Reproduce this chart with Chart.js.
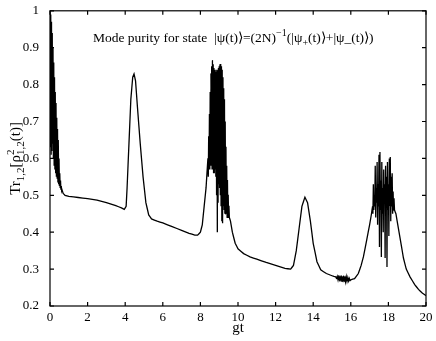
<!DOCTYPE html>
<html>
<head>
  <title>Mode purity</title>
  <script src="https://cdn.jsdelivr.net/npm/chart.js"></script>
  <style>
    html, body { margin: 0; padding: 0; background: #fff; }
    #wrap { width: 436px; height: 341px; }
  </style>
</head>
<body>
  <div id="wrap"><canvas id="c"></canvas></div>

  <script>
    // fast oscillations right after t = 0
    const burst1Gt = [0, 0.02, 0.04, 0.06, 0.08, 0.10, 0.12, 0.14, 0.16, 0.18, 0.20, 0.22, 0.24, 0.26, 0.28, 0.30,
      0.32, 0.34, 0.36, 0.38, 0.40, 0.42, 0.44, 0.46, 0.48, 0.50, 0.52, 0.54, 0.56, 0.58, 0.60, 0.62, 0.64];
    const burst1Val = [1.00, 0.63, 0.99, 0.61, 0.97, 0.62, 0.94, 0.64, 0.90, 0.60, 0.86, 0.58, 0.82, 0.57, 0.78, 0.56,
      0.75, 0.55, 0.71, 0.545, 0.68, 0.535, 0.65, 0.53, 0.60, 0.525, 0.56, 0.52, 0.54, 0.515, 0.525, 0.512, 0.515];

    // plateau, first revival peak, slow decay
    const smooth1Gt = [0.70, 0.80, 1.0, 1.5, 2.0, 2.5, 3.0, 3.5, 3.8, 3.95, 4.05, 4.1, 4.2, 4.3, 4.4, 4.47, 4.55,
      4.65, 4.8, 4.95, 5.1, 5.25, 5.4, 5.7, 6.0, 6.5, 7.0, 7.4, 7.7, 7.85, 8.0, 8.1, 8.2, 8.3];
    const smooth1Val = [0.505, 0.500, 0.497, 0.494, 0.491, 0.487, 0.480, 0.472, 0.466, 0.462, 0.47, 0.52, 0.64, 0.76,
      0.82, 0.829, 0.81, 0.74, 0.64, 0.55, 0.48, 0.447, 0.436, 0.430, 0.425, 0.415, 0.405, 0.397, 0.392, 0.392, 0.40,
      0.42, 0.47, 0.52];

    // second burst around gt = 9
    const burst2Gt = [8.40, 8.42, 8.44, 8.46, 8.48, 8.50, 8.52, 8.54, 8.56, 8.58, 8.60, 8.62, 8.64, 8.66, 8.68, 8.70,
      8.72, 8.74, 8.76, 8.78, 8.80, 8.82, 8.84, 8.86, 8.88, 8.90, 8.92, 8.94, 8.96, 8.98, 9.00, 9.02, 9.04, 9.06,
      9.08, 9.10, 9.12, 9.14, 9.16, 9.18, 9.20, 9.22, 9.24, 9.26, 9.28, 9.30, 9.32, 9.34, 9.36, 9.38, 9.40, 9.42,
      9.44, 9.46, 9.48, 9.50, 9.52, 9.54];
    const burst2Val = [0.60, 0.55, 0.66, 0.57, 0.72, 0.57, 0.78, 0.58, 0.83, 0.58, 0.85, 0.57, 0.865, 0.57, 0.855, 0.56,
      0.845, 0.56, 0.84, 0.57, 0.835, 0.55, 0.84, 0.50, 0.835, 0.40, 0.84, 0.48, 0.845, 0.53, 0.85, 0.52, 0.855, 0.50,
      0.856, 0.47, 0.85, 0.43, 0.84, 0.424, 0.82, 0.47, 0.79, 0.46, 0.76, 0.45, 0.70, 0.45, 0.63, 0.45, 0.58, 0.44,
      0.54, 0.44, 0.50, 0.44, 0.47, 0.44];

    // decay, peak near gt = 13.6
    const smooth2Gt = [9.60, 9.7, 9.85, 10.0, 10.3, 10.64, 11.0, 11.5, 12.0, 12.5, 12.8, 12.95, 13.1, 13.25, 13.4,
      13.56, 13.7, 13.85, 14.0, 14.2, 14.4, 14.7, 14.9, 15.1];
    const smooth2Val = [0.43, 0.40, 0.37, 0.355, 0.342, 0.333, 0.327, 0.318, 0.31, 0.302, 0.300, 0.31, 0.35, 0.41, 0.47,
      0.495, 0.48, 0.43, 0.37, 0.32, 0.298, 0.288, 0.284, 0.280];

    // small ripple near gt = 15.6
    const rippleGt = [15.20, 15.24, 15.28, 15.32, 15.36, 15.40, 15.44, 15.48, 15.52, 15.56, 15.60, 15.64, 15.68,
      15.72, 15.76, 15.80, 15.84, 15.88, 15.92, 15.96, 16.00];
    const rippleVal = [0.279, 0.274, 0.280, 0.271, 0.281, 0.268, 0.281, 0.267, 0.281, 0.266, 0.281, 0.266, 0.280,
      0.266, 0.279, 0.267, 0.277, 0.268, 0.275, 0.269, 0.271];

    const rise3Gt = [16.2, 16.4, 16.55, 16.67, 16.85, 17.0, 17.1];
    const rise3Val = [0.274, 0.288, 0.31, 0.333, 0.38, 0.42, 0.45];

    // third burst around gt = 17.7
    const burst3Gt = [17.150, 17.175, 17.200, 17.225, 17.250, 17.275, 17.300, 17.325, 17.350, 17.375, 17.400, 17.425,
      17.450, 17.475, 17.500, 17.525, 17.550, 17.575, 17.600, 17.625, 17.650, 17.675, 17.700, 17.725, 17.750, 17.775,
      17.800, 17.825, 17.850, 17.875, 17.900, 17.925, 17.950, 17.975, 18.000, 18.025, 18.050, 18.075, 18.100, 18.125,
      18.150, 18.175, 18.200, 18.225, 18.250, 18.275, 18.300, 18.325];
    const burst3Val = [0.47, 0.45, 0.53, 0.46, 0.50, 0.47, 0.58, 0.44, 0.52, 0.48, 0.59, 0.42,
      0.53, 0.47, 0.61, 0.36, 0.617, 0.46, 0.54, 0.333, 0.59, 0.45, 0.52, 0.40, 0.57, 0.48,
      0.53, 0.33, 0.58, 0.47, 0.55, 0.306, 0.59, 0.46, 0.53, 0.39, 0.60, 0.47, 0.604, 0.43,
      0.55, 0.47, 0.56, 0.45, 0.51, 0.46, 0.49, 0.46];

    const tailGt = [18.4, 18.5, 18.6, 18.7, 18.8, 18.95, 19.15, 19.4, 19.6, 19.8, 19.95, 20.0];
    const tailVal = [0.45, 0.42, 0.39, 0.36, 0.33, 0.30, 0.279, 0.258, 0.245, 0.235, 0.23, 0.228];

    const xTickValues = [0, 2, 4, 6, 8, 10, 12, 14, 16, 18, 20];
    const yTickValues = [0.2, 0.3, 0.4, 0.5, 0.6, 0.7, 0.8, 0.9, 1];

    const gtAll = [].concat(burst1Gt, smooth1Gt, burst2Gt, smooth2Gt, rippleGt, rise3Gt, burst3Gt, tailGt);
    const valAll = [].concat(burst1Val, smooth1Val, burst2Val, smooth2Val, rippleVal, rise3Val, burst3Val, tailVal);
    const points = gtAll.map((g, i) => ({ x: g, y: valAll[i] }));

    const FONT = "'Liberation Serif', 'Times New Roman', serif";

    // draw text runs with sub/superscripts; returns width (or only measures)
    function drawRuns(ctx, runs, x, y, size, measureOnly) {
      let cx = x;
      runs.forEach(r => {
        if (r.t) {
          ctx.font = size + 'px ' + FONT;
          if (!measureOnly) ctx.fillText(r.t, cx, y);
          cx += ctx.measureText(r.t).width;
        } else {
          const small = Math.round(size * 0.72);
          ctx.font = small + 'px ' + FONT;
          let w = 0;
          if (r.sup) {
            if (!measureOnly) ctx.fillText(r.sup, cx, y - size * 0.42);
            w = Math.max(w, ctx.measureText(r.sup).width);
          }
          if (r.sub) {
            if (!measureOnly) ctx.fillText(r.sub, cx, y + size * 0.28);
            w = Math.max(w, ctx.measureText(r.sub).width);
          }
          cx += w;
        }
      });
      return cx - x;
    }

    const titleRuns = [
      { t: 'Mode purity for state  |\u03c8(t)\u27e9=(2N)' }, { sup: '\u22121' },
      { t: '(|\u03c8' }, { sub: '+' }, { t: '(t)\u27e9+|\u03c8_(t)\u27e9)' }
    ];
    const yTitleRuns = [
      { t: 'Tr' }, { sub: '1,2' }, { t: '[\u03c1' }, { sup: '2', sub: '1,2' }, { t: '(t)]' }
    ];

    const framePlugin = {
      id: 'frame',
      afterDraw(chart) {
        const { ctx, chartArea: a, scales: { x, y } } = chart;
        ctx.save();
        ctx.strokeStyle = '#000';
        ctx.lineWidth = 1.2;
        ctx.strokeRect(a.left, a.top, a.right - a.left, a.bottom - a.top);
        ctx.beginPath();
        x.ticks.forEach(t => {
          const px = x.getPixelForValue(t.value);
          ctx.moveTo(px, a.bottom); ctx.lineTo(px, a.bottom - 4);
          ctx.moveTo(px, a.top); ctx.lineTo(px, a.top + 4);
        });
        y.ticks.forEach(t => {
          const py = y.getPixelForValue(t.value);
          ctx.moveTo(a.left, py); ctx.lineTo(a.left + 4, py);
          ctx.moveTo(a.right, py); ctx.lineTo(a.right - 4, py);
        });
        ctx.stroke();

        ctx.fillStyle = '#000';
        ctx.textBaseline = 'alphabetic';
        ctx.textAlign = 'left';
        drawRuns(ctx, titleRuns, a.left + 43, a.top + 31, 13.5);

        // rotated y-axis title
        ctx.translate(20, (a.top + a.bottom) / 2);
        ctx.rotate(-Math.PI / 2);
        const w = drawRuns(ctx, yTitleRuns, 0, 0, 15, true);
        drawRuns(ctx, yTitleRuns, -w / 2, 0, 15);
        ctx.restore();
      }
    };

    new Chart(document.getElementById('c').getContext('2d'), {
      type: 'line',
      data: {
        datasets: [{
          data: points,
          borderColor: '#000',
          borderWidth: 1.3,
          pointRadius: 0,
          tension: 0.001,
          fill: false
        }]
      },
      options: {
        responsive: true,
        maintainAspectRatio: false,
        animation: false,
        layout: { padding: { left: 0, right: 10, top: 10, bottom: 0 } },
        plugins: { legend: { display: false }, tooltip: { enabled: false } },
        scales: {
          x: {
            type: 'linear',
            min: 0, max: 20,
            afterBuildTicks: s => { s.ticks = xTickValues.map(v => ({ value: v })); },
            afterFit: s => { s.height = 35; },
            grid: { display: false },
            border: { display: false },
            ticks: { color: '#000', font: { family: FONT, size: 13 }, padding: -4, maxRotation: 0 },
            title: { display: true, text: 'gt', color: '#000', font: { family: FONT, size: 15 }, padding: { top: 0, bottom: 4 } }
          },
          y: {
            min: 0.2, max: 1,
            afterBuildTicks: s => { s.ticks = yTickValues.map(v => ({ value: v })); },
            afterFit: s => { s.width = 50; },
            grid: { display: false },
            border: { display: false },
            ticks: {
              color: '#000', font: { family: FONT, size: 13 }, padding: 3,
              callback: v => String(+v.toFixed(1))
            }
          }
        }
      },
      plugins: [framePlugin]
    });
  </script>
</body>
</html>
